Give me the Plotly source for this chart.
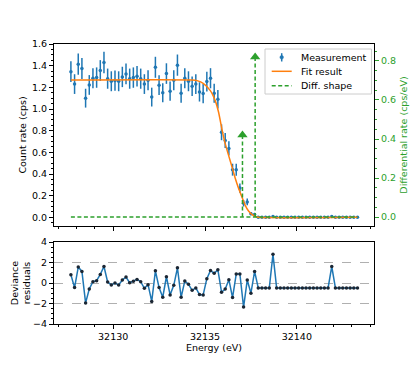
import plotly.graph_objects as go

# ---------------- data ----------------
energy = [
    32127.7, 32127.9, 32128.1, 32128.3, 32128.5, 32128.7, 32128.9, 32129.1, 32129.3, 32129.5,
    32129.7, 32129.9, 32130.1, 32130.3, 32130.5, 32130.7, 32130.9, 32131.1, 32131.3, 32131.5,
    32131.7, 32131.9, 32132.1, 32132.3, 32132.5, 32132.7, 32132.9, 32133.1, 32133.3, 32133.5,
    32133.7, 32133.9, 32134.1, 32134.3, 32134.5, 32134.7, 32134.9, 32135.1, 32135.3, 32135.5,
    32135.7, 32135.9, 32136.1, 32136.3, 32136.5, 32136.7, 32136.9, 32137.1, 32137.3, 32137.5,
    32137.7, 32137.9, 32138.1, 32138.3, 32138.5, 32138.7, 32138.9, 32139.1, 32139.3, 32139.5,
    32139.7, 32139.9, 32140.1, 32140.3, 32140.5, 32140.7, 32140.9, 32141.1, 32141.3, 32141.5,
    32141.7, 32141.9, 32142.1, 32142.3, 32142.5, 32142.7, 32142.9, 32143.1, 32143.3,
]

count_rate = [
    1.345, 1.23, 1.414, 1.373, 1.10, 1.222, 1.284, 1.29, 1.355, 1.43,
    1.28, 1.256, 1.262, 1.256, 1.296, 1.324, 1.28, 1.29, 1.302, 1.28,
    1.23, 1.265, 1.11, 1.385, 1.22, 1.15, 1.327, 1.165, 1.265, 1.405,
    1.145, 1.284, 1.256, 1.21, 1.23, 1.158, 1.142, 1.253, 1.284, 1.145,
    1.09, 0.785, 0.71, 0.636, 0.44, 0.44, 0.27, 0.13, 0.142, 0.034,
    0.027, 0.0, 0.0, 0.0, 0.0, 0.007, 0.0, 0.0, 0.0, 0.0,
    0.0, 0.0, 0.0, 0.0, 0.0, 0.0, 0.0, 0.0, 0.0, 0.0,
    0.0, 0.007, 0.0, 0.0, 0.0, 0.0, 0.0, 0.0, 0.0,
]

count_err = [
    0.096, 0.091, 0.098, 0.097, 0.087, 0.091, 0.093, 0.094, 0.096, 0.099,
    0.093, 0.092, 0.093, 0.092, 0.094, 0.095, 0.093, 0.094, 0.094, 0.093,
    0.091, 0.093, 0.087, 0.097, 0.091, 0.088, 0.095, 0.089, 0.093, 0.098,
    0.088, 0.093, 0.092, 0.091, 0.091, 0.089, 0.088, 0.092, 0.093, 0.088,
    0.086, 0.073, 0.069, 0.066, 0.055, 0.055, 0.043, 0.030, 0.031, 0.015,
    0.014, 0.0, 0.0, 0.0, 0.0, 0.007, 0.0, 0.0, 0.0, 0.0,
    0.0, 0.0, 0.0, 0.0, 0.0, 0.0, 0.0, 0.0, 0.0, 0.0,
    0.0, 0.007, 0.0, 0.0, 0.0, 0.0, 0.0, 0.0, 0.0,
]

residuals = [
    0.81, -0.45, 1.55, 1.13, -1.94, -0.58, 0.13, 0.23, 0.84, 1.61,
    0.10, -0.19, 0.00, -0.19, 0.29, 0.58, 0.03, 0.16, 0.35, 0.13,
    -0.52, -0.16, -1.80, 1.19, -0.45, -1.39, 0.61, -1.16, -0.23, 1.48,
    -1.39, 0.19, -0.13, -0.71, -0.48, -1.13, -1.16, 0.42, 1.23, 0.94,
    1.30, -0.90, -0.58, 0.32, -1.42, 0.87, 0.87, -2.35, 0.29, -1.00,
    1.13, -0.48, -0.48, -0.48, -0.48, 2.80, -0.48, -0.48, -0.48, -0.48,
    -0.48, -0.48, -0.48, -0.48, -0.48, -0.48, -0.48, -0.48, -0.48, -0.48,
    -0.48, 1.61, -0.48, -0.48, -0.48, -0.48, -0.48, -0.48, -0.48,
]

fit_energy = [32127.7, 32134.3, 32134.57, 32134.92, 32135.29, 32135.56, 32135.74, 32135.92,
              32136.10, 32136.28, 32136.47, 32136.65, 32136.83, 32137.01, 32137.19,
              32137.37, 32137.55, 32137.73, 32137.9, 32143.3]
fit_rate = [1.268, 1.268, 1.262, 1.235, 1.170, 1.075, 0.970, 0.815,
            0.680, 0.574, 0.466, 0.358, 0.266, 0.188, 0.111,
            0.058, 0.028, 0.009, 0.0, 0.0]

diff_energy = [32137.04, 32137.73]
diff_rate = [0.42, 0.82]

tick_energy = [32130, 32135, 32140]

legend_labels = ['Measurement', 'Fit result', 'Diff. shape']

# ---------------- figure ----------------
BLUE = '#1f77b4'
ORANGE = '#ff7f0e'
GREEN = '#2ca02c'
FONT = 'DejaVu Sans'
FS = 9.5
DASH = '4px,2.5px'

W, H = 416, 370
ML, MR, MT, MB = 54, 42, 44, 46
PW, PH = W - ML - MR, H - MT - MB


def px(xp):
    return (xp - ML) / PW


def py(yp):
    return (H - MB - yp) / PH


fig = go.Figure()

fig.add_trace(go.Scatter(
    x=energy, y=count_rate, mode='markers', name=legend_labels[0], showlegend=False,
    marker=dict(color=BLUE, size=3.5),
    error_y=dict(type='data', array=count_err, visible=True, color=BLUE,
                 thickness=1.5, width=0),
    xaxis='x', yaxis='y'))

fig.add_trace(go.Scatter(
    x=fit_energy, y=fit_rate, mode='lines', name=legend_labels[1], showlegend=False,
    line=dict(color=ORANGE, width=1.5, shape='spline', smoothing=0.5),
    xaxis='x', yaxis='y'))

# diff shape: baseline + separate vertical segments (None-separated)
dx = [energy[0], energy[-1]]
dy = [0.0, 0.0]
for e, a in zip(diff_energy, diff_rate):
    dx += [None, e, e]
    dy += [None, 0.0, a]

fig.add_trace(go.Scatter(
    x=dx, y=dy, mode='lines', name=legend_labels[2], showlegend=False,
    line=dict(color=GREEN, width=1.5, dash=DASH), connectgaps=False,
    xaxis='x', yaxis='y2'))

fig.add_trace(go.Scatter(
    x=diff_energy, y=diff_rate, mode='markers', showlegend=False,
    marker=dict(symbol='triangle-up', size=9, color=GREEN),
    xaxis='x', yaxis='y2'))

fig.add_trace(go.Scatter(
    x=energy, y=residuals, mode='lines+markers', showlegend=False,
    line=dict(color=BLUE, width=1.5),
    marker=dict(color='#1b2633', size=3.5),
    xaxis='x2', yaxis='y3'))

xr = [32126.78, 32144.2]
common_x = dict(range=xr, tickvals=tick_energy, ticks='outside', ticklen=4,
                tickcolor='black', showline=True, linecolor='black', linewidth=1,
                mirror=True, showgrid=False, zeroline=False,
                minor=dict(dtick=1, tick0=32130, ticks='outside', ticklen=2, tickcolor='black'))

# ---- legend drawn as a box with entries ----
shapes = []
annotations = []
shapes.append(dict(type='rect', xref='paper', yref='paper',
                   x0=px(265), x1=px(371.5), y0=py(94), y1=py(49),
                   line=dict(color='#cccccc', width=1), fillcolor='rgba(255,255,255,0.8)',
                   layer='above'))
entry_y = [57.3, 71.3, 85.7]
shapes.append(dict(type='line', xref='paper', yref='paper',
                   x0=px(281.7), x1=px(281.7), y0=py(61.5), y1=py(53.2),
                   line=dict(color=BLUE, width=1.5), layer='above'))
shapes.append(dict(type='circle', xref='paper', yref='paper',
                   xsizemode='pixel', ysizemode='pixel',
                   xanchor=px(281.7), yanchor=py(entry_y[0]),
                   x0=-1.8, x1=1.8, y0=-1.8, y1=1.8,
                   fillcolor=BLUE, line=dict(color=BLUE, width=0.5), layer='above'))
shapes.append(dict(type='line', xref='paper', yref='paper',
                   x0=px(271.7), x1=px(291.7), y0=py(entry_y[1]), y1=py(entry_y[1]),
                   line=dict(color=ORANGE, width=1.5), layer='above'))
shapes.append(dict(type='line', xref='paper', yref='paper',
                   x0=px(271.7), x1=px(291.7), y0=py(entry_y[2]), y1=py(entry_y[2]),
                   line=dict(color=GREEN, width=1.5, dash=DASH), layer='above'))
for lab, yy in zip(legend_labels, entry_y):
    annotations.append(dict(text=lab, xref='paper', yref='paper', x=px(299.3), y=py(yy),
                            xanchor='left', yanchor='middle', showarrow=False,
                            font=dict(size=FS, family=FONT, color='black')))

fig.update_layout(
    width=W, height=H,
    margin=dict(l=ML, r=MR, t=MT, b=MB, autoexpand=False),
    paper_bgcolor='white', plot_bgcolor='white',
    font=dict(family=FONT, size=FS, color='black'),
    showlegend=False,
    shapes=shapes, annotations=annotations,
    xaxis=dict(domain=[0, 1], anchor='y', showticklabels=False, **common_x),
    xaxis2=dict(domain=[0, 1], anchor='y3', matches='x', tickformat='d',
                title=dict(text='Energy (eV)', standoff=1, font=dict(size=FS)),
                **common_x),
    yaxis=dict(domain=[py(226), 1], anchor='x', range=[-0.08, 1.6], dtick=0.2, tick0=0,
               tickformat='.1f', ticks='outside', ticklen=4, tickcolor='black',
               showline=True, linecolor='black', linewidth=1, mirror=True,
               showgrid=False, zeroline=False,
               minor=dict(dtick=0.05, ticks='outside', ticklen=2, tickcolor='black'),
               title=dict(text='Count rate (cps)', standoff=3, font=dict(size=FS))),
    yaxis2=dict(overlaying='y', side='right', anchor='x', range=[-0.046, 0.887],
                dtick=0.2, tick0=0, tickformat='.1f', ticks='outside', ticklen=4,
                tickcolor=GREEN, tickfont=dict(color=GREEN),
                showline=False, showgrid=False, zeroline=False,
                minor=dict(dtick=0.05, ticks='outside', ticklen=2, tickcolor=GREEN),
                title=dict(text='Differential rate (cps/eV)', standoff=5,
                           font=dict(color=GREEN, size=FS))),
    yaxis3=dict(domain=[0, py(242)], anchor='x2', range=[-4, 4],
                tickvals=[-4, -2, 0, 2, 4], ticks='outside', ticklen=4,
                tickcolor='black', showline=True, linecolor='black', linewidth=1,
                mirror=True, showgrid=True, gridcolor='#b0b0b0', griddash='dash',
                gridwidth=0.8, zeroline=False,
                minor=dict(dtick=0.5, ticks='outside', ticklen=2, tickcolor='black'),
                title=dict(text='Deviance<br>residuals', standoff=0, font=dict(size=FS))),
)

fig.write_html('out.html', config={'displayModeBar': False},
               post_script="document.body.style.margin='0';document.body.style.overflow='hidden';")
